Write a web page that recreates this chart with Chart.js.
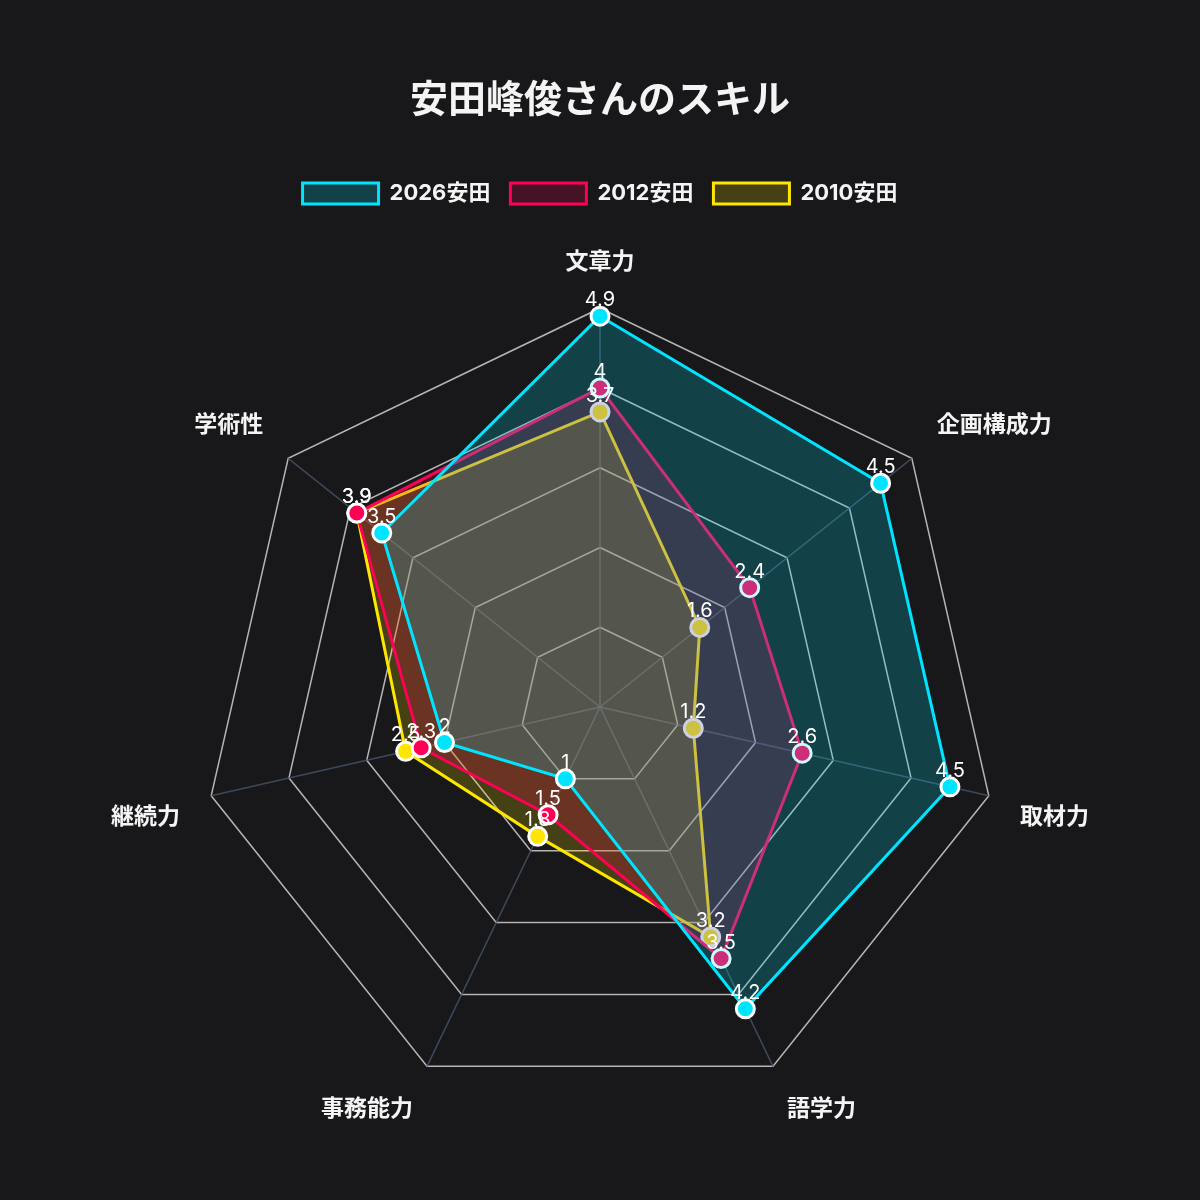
<!DOCTYPE html>
<html lang="ja">
<head>
<meta charset="UTF-8">
<title>安田峰俊さんのスキル</title>
<script src="https://cdn.jsdelivr.net/npm/chart.js@4.4.1/dist/chart.umd.min.js"></script>
<style>
  html, body { margin: 0; padding: 0; background: #18181b; }
  .wrap { width: 1200px; height: 1200px; }
</style>
</head>
<body>
<div class="wrap"><canvas id="skillChart" width="1200" height="1200"></canvas></div>
<script>
// スキル項目
const skills = ['文章力', '企画構成力', '取材力', '語学力', '事務能力', '継続力', '学術性'];

// 各年の値 (0-5)
const yasuda2026 = [4.9, 4.5, 4.5, 4.2, 1, 2, 3.5];
const yasuda2012 = [4, 2.4, 2.6, 3.5, 1.5, 2.3, 3.9];
const yasuda2010 = [3.7, 1.6, 1.2, 3.2, 1.8, 2.5, 3.9];

const seriesNames = ['2026安田', '2012安田', '2010安田'];

const FONT = 'Inter, "Noto Sans CJK JP", sans-serif';

// 凡例の下に余白を足す
const legendGap = {
  id: 'legendGap',
  beforeInit(chart) {
    const fit = chart.legend.fit;
    chart.legend.fit = function () {
      fit.bind(chart.legend)();
      this.height += 10;
    };
  }
};

// 点の上に値を描く (datalabels の代わり)
const valueLabels = {
  id: 'valueLabels',
  afterDatasetsDraw(chart) {
    const ctx = chart.ctx;
    ctx.save();
    ctx.font = '20px ' + FONT;
    ctx.fillStyle = '#ffffff';
    ctx.textAlign = 'center';
    ctx.textBaseline = 'middle';
    chart.data.datasets.forEach((ds, i) => {
      const meta = chart.getDatasetMeta(i);
      meta.data.forEach((pt, j) => {
        ctx.fillText(String(ds.data[j]), pt.x, pt.y - 16);
      });
    });
    ctx.restore();
  }
};

new Chart(document.getElementById('skillChart'), {
  type: 'radar',
  data: {
    labels: skills,
    datasets: [
      {
        label: seriesNames[0],
        data: yasuda2026,
        borderColor: '#00e5ff',
        backgroundColor: 'rgba(0, 229, 255, 0.2)',
        pointBackgroundColor: '#00e5ff',
        pointBorderColor: '#ffffff',
        pointBorderWidth: 3,
        borderWidth: 3,
        fill: true
      },
      {
        label: seriesNames[1],
        data: yasuda2012,
        borderColor: '#ff0055',
        backgroundColor: 'rgba(255, 0, 85, 0.2)',
        pointBackgroundColor: '#ff0055',
        pointBorderColor: '#ffffff',
        pointBorderWidth: 3,
        borderWidth: 3,
        fill: true
      },
      {
        label: seriesNames[2],
        data: yasuda2010,
        borderColor: '#ffe600',
        backgroundColor: 'rgba(255, 230, 0, 0.2)',
        pointBackgroundColor: '#ffe600',
        pointBorderColor: '#ffffff',
        pointBorderWidth: 3,
        borderWidth: 3,
        fill: true
      }
    ]
  },
  options: {
    responsive: false,
    animation: false,
    layout: { padding: { top: 34, bottom: 57, left: 20, right: 20 } },
    elements: {
      point: { radius: 9 },
      line: { tension: 0 }
    },
    plugins: {
      title: {
        display: true,
        text: '安田峰俊さんのスキル',
        color: '#f4f4f5',
        font: { family: FONT, size: 38, weight: 'bold' },
        padding: { top: 44, bottom: 39 }
      },
      legend: {
        position: 'top',
        labels: {
          color: '#f4f4f5',
          font: { family: FONT, size: 22, weight: 'bold' },
          boxWidth: 76,
          boxHeight: 21,
          padding: 20
        }
      },
      tooltip: { enabled: false }
    },
    scales: {
      r: {
        min: 0,
        max: 5,
        ticks: { display: false, stepSize: 1 },
        grid: { color: 'rgba(255, 255, 255, 0.68)', lineWidth: 1.5 },
        angleLines: { color: 'rgba(71, 85, 105, 0.8)', lineWidth: 1.5 },
        pointLabels: {
          color: '#f4f4f5',
          font: { family: FONT, size: 23, weight: 'bold' },
          padding: 32
        }
      }
    }
  },
  plugins: [legendGap, valueLabels]
});
</script>
</body>
</html>
